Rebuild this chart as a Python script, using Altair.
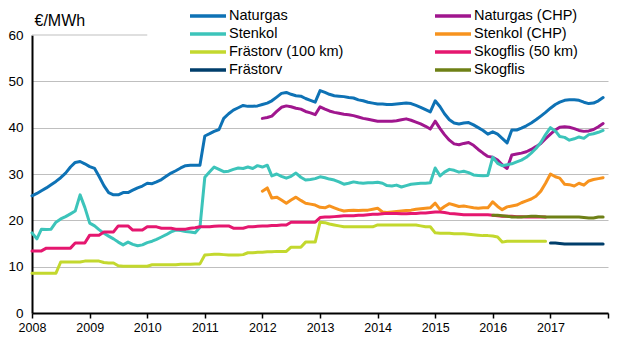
import altair as alt
import pandas as pd

series_names = ["Naturgas", "Naturgas (CHP)", "Stenkol", "Stenkol (CHP)",
                "Frästorv (100 km)", "Skogflis (50 km)", "Frästorv", "Skogflis"]
series_colors = ["#0E72B5", "#A0168E", "#3CC4BA", "#F7931E",
                 "#C3D82E", "#E5176F", "#003E6B", "#6E8016"]
# legend is filled column by column: left column first, then right column
legend_order = ["Naturgas", "Stenkol", "Frästorv (100 km)", "Frästorv",
                "Naturgas (CHP)", "Stenkol (CHP)", "Skogflis (50 km)", "Skogflis"]

naturgas = [
    25.3, 25.8, 26.4, 27.0, 27.7, 28.4, 29.2, 30.2, 31.5, 32.5, 32.7, 32.2,
    31.6, 31.2, 29.5, 27.5, 26.0, 25.5, 25.5, 26.0, 26.0, 26.5, 27.0, 27.4,
    28.0, 27.9, 28.3, 28.8, 29.5, 30.2, 30.7, 31.3, 31.8, 31.9, 31.9, 31.9,
    38.2, 38.7, 39.2, 39.6, 42.0, 43.0, 43.8, 44.3, 44.8, 44.6, 44.6, 44.7,
    45.0, 45.3, 45.8, 46.6, 47.4, 47.6, 47.2, 46.9, 46.8, 46.3, 45.9, 45.5,
    48.0, 47.6, 47.2, 46.9, 46.8, 46.7, 46.5, 46.4, 46.0, 45.8, 45.5, 45.3,
    45.1, 45.1, 45.0, 45.0, 45.1, 45.2, 45.3, 45.2, 44.8, 44.4, 43.9, 43.4,
    45.8, 44.5, 43.0, 41.7, 41.0, 40.8, 41.0, 41.1, 40.6, 40.0, 39.4, 38.6,
    39.1, 38.6, 37.7, 36.7, 39.5, 39.5, 39.9, 40.4, 41.0, 41.7, 42.5, 43.3,
    44.2, 45.0, 45.5, 45.9, 46.0, 46.0, 45.9, 45.5, 45.2, 45.3, 45.8, 46.5,
]
naturgas_chp = [
    42.0, 42.2, 42.5, 43.5, 44.4, 44.7, 44.5, 44.2, 44.0, 43.5, 43.2, 42.8,
    44.5, 44.0, 43.6, 43.3, 43.1, 42.9, 42.8, 42.6, 42.3, 42.0, 41.8, 41.6,
    41.4, 41.4, 41.4, 41.4, 41.5, 41.7, 41.9, 41.6, 41.2, 40.8, 40.3, 39.7,
    41.4, 39.8, 38.5, 37.3, 36.5, 36.3, 36.6, 36.8, 36.2, 35.3, 34.5, 33.8,
    33.6, 33.0, 32.0, 31.2, 34.1, 34.3, 34.5, 34.8, 35.3, 35.9, 36.6, 37.6,
    38.6, 39.5, 40.1, 40.2, 40.1, 39.8, 39.4, 39.2, 39.3, 39.6, 40.2, 40.9,
]
stenkol = [
    17.3, 16.0, 18.1, 18.0, 18.1, 19.6, 20.3, 20.8, 21.4, 22.0, 25.5, 22.8,
    19.4, 18.8, 18.0, 17.2, 16.6, 16.0, 15.3, 14.7, 15.3, 14.8, 14.5, 14.7,
    15.2, 15.5, 15.9, 16.4, 16.9, 17.5, 17.9, 17.8, 17.6, 17.5, 17.3, 18.5,
    29.3, 30.5, 31.5, 31.0, 30.5, 30.6, 31.0, 31.3, 31.2, 31.5, 31.2, 31.8,
    31.5, 31.9, 29.6, 30.0, 29.5, 29.1, 29.5, 30.2, 29.3, 28.7, 28.8, 29.0,
    29.4, 29.2, 28.9, 28.7, 28.3, 27.8, 28.0, 28.3, 28.1, 28.0, 28.1, 28.1,
    28.2, 28.0, 27.5, 27.4, 27.6, 27.2, 27.5, 27.8, 27.9, 28.0, 28.0, 28.1,
    31.3, 29.6, 30.4, 31.0, 30.8, 30.4, 30.6, 30.3, 29.8, 29.7, 29.6, 29.7,
    33.6, 32.3, 31.8, 32.0, 32.2, 32.6, 33.0, 33.6, 34.5, 35.5, 36.8, 38.5,
    40.0, 39.3, 38.1, 37.9, 37.3, 37.6, 38.0, 37.7, 38.5, 38.7, 39.0, 39.4,
]
stenkol_chp = [
    26.3, 27.0, 24.8, 25.0, 24.4, 23.7, 24.4, 25.0, 24.3, 23.7, 23.5, 23.3,
    22.8, 22.7, 23.1, 22.7, 22.3, 22.0, 22.1, 22.2, 22.1, 22.2, 22.2, 22.4,
    22.6, 21.8, 21.7, 21.8, 21.9, 22.0, 22.1, 22.2, 22.4, 22.5, 22.6, 22.7,
    23.7, 22.3, 23.0, 23.6, 23.3, 23.0, 23.1, 22.9, 22.7, 22.6, 22.7, 22.7,
    24.0, 23.0, 22.3, 22.9, 23.1, 23.3, 23.8, 24.2, 24.6, 25.2, 26.3, 28.0,
    30.0, 29.4, 29.1, 27.8, 27.7, 27.4, 28.0, 27.6, 28.5, 28.8, 29.0, 29.2,
]
frastorv_100 = [
    8.6, 8.6, 8.6, 8.6, 8.6, 8.6, 11.0, 11.0, 11.0, 11.0, 11.0, 11.2,
    11.2, 11.2, 11.2, 10.9, 10.8, 10.8, 10.2, 10.1, 10.1, 10.1, 10.1, 10.1,
    10.1, 10.4, 10.4, 10.4, 10.4, 10.4, 10.4, 10.5, 10.5, 10.5, 10.6, 10.6,
    12.5, 12.6, 12.7, 12.7, 12.6, 12.5, 12.5, 12.5, 12.6, 13.0, 13.0, 13.1,
    13.1, 13.2, 13.2, 13.3, 13.3, 13.3, 14.2, 14.2, 14.2, 15.3, 15.3, 15.3,
    19.6, 19.5, 19.2, 19.0, 18.8, 18.6, 18.6, 18.6, 18.6, 18.6, 18.6, 18.6,
    19.0, 19.0, 19.0, 19.0, 19.0, 19.0, 19.0, 19.0, 19.0, 18.8, 18.6, 18.6,
    17.3, 17.2, 17.2, 17.2, 17.1, 17.1, 17.1, 17.0, 16.9, 16.8, 16.7, 16.7,
    16.6, 16.4, 15.3, 15.5, 15.5, 15.5, 15.5, 15.5, 15.5, 15.5, 15.5, 15.5,
]
skogflis_50 = [
    13.4, 13.4, 13.4, 14.0, 14.0, 14.0, 14.0, 14.0, 14.0, 15.1, 15.1, 15.1,
    16.8, 16.8, 16.8, 17.5, 17.5, 17.5, 18.8, 18.8, 18.8, 17.9, 17.9, 17.9,
    18.6, 18.6, 18.6, 18.3, 18.3, 18.3, 18.1, 18.1, 18.1, 18.3, 18.4, 18.6,
    18.6, 18.6, 18.7, 18.8, 18.8, 18.8, 18.3, 18.3, 18.3, 18.6, 18.6, 18.7,
    18.8, 18.8, 18.9, 18.9, 19.0, 19.0, 19.6, 19.6, 19.6, 19.6, 19.6, 19.6,
    20.6, 20.7, 20.7, 20.8, 20.9, 21.0, 21.0, 21.0, 21.1, 21.1, 21.2, 21.3,
    21.3, 21.4, 21.5, 21.5, 21.5, 21.4, 21.4, 21.5, 21.5, 21.6, 21.6, 21.7,
    21.8, 21.8, 21.7, 21.5, 21.4, 21.3, 21.2, 21.2, 21.2, 21.2, 21.2, 21.2,
    21.1, 21.0, 20.9, 20.9, 20.9, 20.8, 20.8, 20.7, 20.7, 20.7, 20.7, 20.7,
]
frastorv = [15.1, 15.1, 15.0, 14.9, 14.9, 14.9, 14.9, 14.9, 14.9, 14.9, 14.9, 14.9]
skogflis = [
    21.1, 21.1, 21.0, 20.9, 20.7, 20.7, 20.7, 20.8, 20.9, 20.9, 20.8, 20.7,
    20.7, 20.7, 20.7, 20.7, 20.7, 20.7, 20.7, 20.6, 20.5, 20.5, 20.7, 20.7,
]
start_years = [2008, 2012, 2008, 2012, 2008, 2008, 2017, 2016]
all_values = [naturgas, naturgas_chp, stenkol, stenkol_chp,
              frastorv_100, skogflis_50, frastorv, skogflis]

year_ticks = list(range(2008, 2019))
y_ticks = [0, 10, 20, 30, 40, 50, 60]

rows = []
for name, start, vals in zip(series_names, start_years, all_values):
    dates = pd.date_range(f"{start}-01-01", periods=len(vals), freq="MS")
    for d, v in zip(dates, vals):
        rows.append({"serie": name, "date": d, "value": v})
df = pd.DataFrame(rows)

grid_top = pd.DataFrame({"x": [pd.Timestamp("2008-01-01")],
                         "x2": [pd.Timestamp("2010-01-01")], "y": [60]})

FONT = "Liberation Sans"
color_of = dict(zip(series_names, series_colors))

x_scale = alt.Scale(domain=[pd.Timestamp("2008-01-01").isoformat(),
                            pd.Timestamp("2018-01-01").isoformat()])
y_scale = alt.Scale(domain=[0, 60], nice=False)

tick_dates = [alt.DateTime(year=y, month=1, date=1) for y in year_ticks]

lines = alt.Chart(df).mark_line(strokeWidth=3, strokeJoin="round", strokeCap="round").encode(
    x=alt.X("date:T", scale=x_scale,
            axis=alt.Axis(values=tick_dates, title=None,
                          labelExpr="year(datum.value) == 2018 ? '' : timeFormat(datum.value, '%Y')",
                          labelFlush=False,
                          labelFont=FONT, labelFontSize=12.5, labelColor="#000000",
                          labelPadding=3, tickSize=5, tickWidth=1.5, tickColor="#000000",
                          domainColor="#000000", domainWidth=2, grid=False)),
    y=alt.Y("value:Q", scale=y_scale,
            axis=alt.Axis(values=y_ticks, title="€/MWh", titleAngle=0, titleX=2, titleY=-15,
                          titleAlign="left", titleBaseline="middle", titleFont=FONT,
                          titleFontSize=16, titleFontWeight="normal", titleColor="#000000",
                          labelFont=FONT, labelFontSize=13.5, labelColor="#000000",
                          labelPadding=9, tickSize=0, domainColor="#000000", domainWidth=2,
                          grid=True, gridColor="#BFBFBF", gridWidth=1,
                          gridOpacity={"expr": "datum.value >= 60 ? 0 : 1"})),
    color=alt.Color("serie:N",
                    scale=alt.Scale(domain=legend_order,
                                    range=[color_of[s] for s in legend_order]),
                    sort=legend_order,
                    legend=alt.Legend(title=None, orient="none", legendX=156, legendY=-26.5,
                                      columns=2, columnPadding=89, rowPadding=2.0,
                                      padding=0, symbolType="stroke", symbolSize=1296,
                                      symbolStrokeWidth=3.5, labelOffset=1, clipHeight=15,
                                      labelFont=FONT, labelFontSize=14.5, labelColor="#000000")),
    detail="serie:N",
)

top_grid = alt.Chart(grid_top).mark_rule(color="#BFBFBF", strokeWidth=1).encode(
    x=alt.X("x:T", scale=x_scale), x2="x2:T", y=alt.Y("y:Q", scale=y_scale))

chart = alt.layer(top_grid, lines).properties(
    width=576, height=278,
    autosize=alt.AutoSizeParams(type="none"),
    padding={"left": 24, "top": 27, "right": 14, "bottom": 42},
).configure_view(strokeWidth=0)

chart.save("out.html", embed_options={"renderer": "svg", "actions": False})
